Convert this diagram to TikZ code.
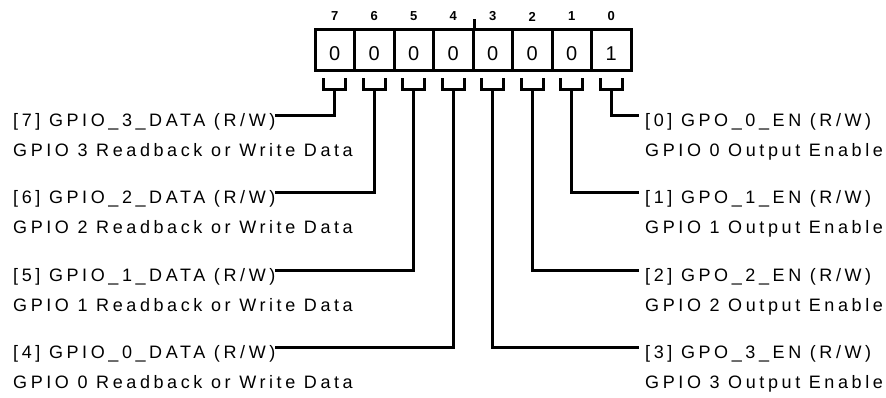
\documentclass[tikz,border=0pt]{standalone}
\usepackage{fontspec}
\setmainfont{Liberation Sans}
\newfontfamily\lblfont[LetterSpace=20]{Liberation Sans}
\usetikzlibrary{calc}
\begin{document}
\begin{tikzpicture}[x=1pt,y=-1pt,
  wire/.style={line width=3pt, line join=miter, line cap=rect},
  cell/.style={draw, line width=3pt, minimum width=39.5pt, minimum height=41pt, inner sep=0pt},
  valtxt/.style={inner sep=0pt, font=\fontsize{20}{20}\selectfont},
  bitno/.style={inner sep=0pt, font=\bfseries\fontsize{13}{13}\selectfont},
  lbl/.style={anchor=base west, inner sep=0pt, font=\lblfont\fontsize{18}{18}\selectfont}]
\useasboundingbox (0,0) rectangle (886,397);

% register cells, values, bit numbers and forks
\foreach \b/\v [count=\i from 0] in {7/0,6/0,5/0,4/0,3/0,2/0,1/0,0/1} {
  \pgfmathsetmacro\cx{334.75+39.5*\i}
  \node[cell] (c\b) at (\cx,49.5) {};
  \node[valtxt] (v\b) at (\cx,54) {\v};
  \node[bitno] (n\b) at (\cx,16.5) {\b};
  \coordinate (s\b) at (\cx,89);
  \draw[wire] (\cx-11,79) -- (\cx-11,89) -- (\cx+11,89) -- (\cx+11,79);
}
% tick mark in the middle
\draw[wire] (c4.north east) -- ++(0,-7);

% left labels
\node[lbl] (l7) at (13,126)   {[7] GPIO\_3\_DATA (R/W)};
\node[lbl] (d7) at (13,156)   {GPIO 3 Readback or Write Data};
\node[lbl] (l6) at (13,203.5) {[6] GPIO\_2\_DATA (R/W)};
\node[lbl] (d6) at (13,233.5) {GPIO 2 Readback or Write Data};
\node[lbl] (l5) at (13,281)   {[5] GPIO\_1\_DATA (R/W)};
\node[lbl] (d5) at (13,311)   {GPIO 1 Readback or Write Data};
\node[lbl] (l4) at (13,358.5) {[4] GPIO\_0\_DATA (R/W)};
\node[lbl] (d4) at (13,388.5) {GPIO 0 Readback or Write Data};

% right labels
\node[lbl] (l0) at (645,126)   {[0] GPO\_0\_EN (R/W)};
\node[lbl] (d0) at (645,156)   {GPIO 0 Output Enable};
\node[lbl] (l1) at (645,203.5) {[1] GPO\_1\_EN (R/W)};
\node[lbl] (d1) at (645,233.5) {GPIO 1 Output Enable};
\node[lbl] (l2) at (645,281)   {[2] GPO\_2\_EN (R/W)};
\node[lbl] (d2) at (645,311)   {GPIO 2 Output Enable};
\node[lbl] (l3) at (645,358.5) {[3] GPO\_3\_EN (R/W)};
\node[lbl] (d3) at (645,388.5) {GPIO 3 Output Enable};

% line end coordinates
\foreach \lb/\rb/\ry in {7/0/115, 6/1/192.5, 5/2/270, 4/3/347.5} {
  \coordinate (e\lb) at ($(l\lb.east |- 0,\ry)+(1,0)$);
  \coordinate (e\rb) at ($(l\rb.west |- 0,\ry)+(-8,0)$);
  \draw[wire] (s\lb) |- (e\lb);
  \draw[wire] (s\rb) |- (e\rb);
}
\end{tikzpicture}
\end{document}
